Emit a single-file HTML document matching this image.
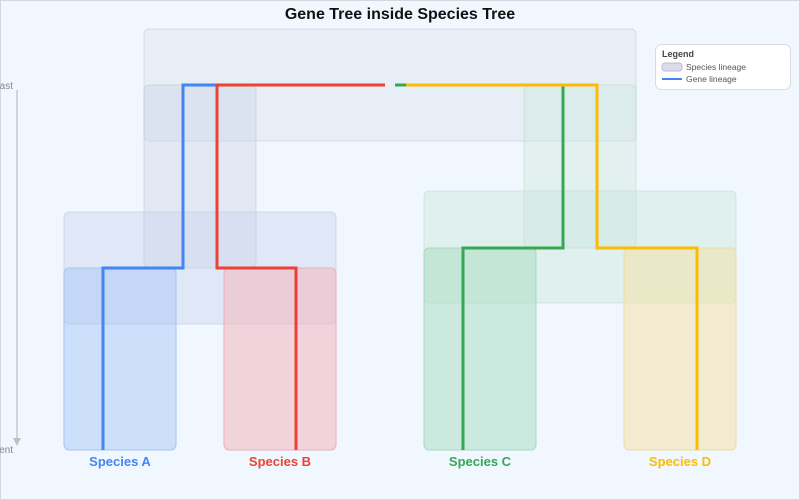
<!DOCTYPE html>
<html><head><meta charset="utf-8"><style>
html,body{margin:0;padding:0;background:#f0f7fe;}
svg{display:block;font-family:"Liberation Sans",sans-serif;}
</style></head><body>
<svg width="800" height="500" viewBox="0 0 800 500" xmlns="http://www.w3.org/2000/svg">
<rect x="0.5" y="0.5" width="799" height="499" fill="#f0f7fe" stroke="#d4d8de"/>
<text x="400" y="19" text-anchor="middle" font-size="16" font-weight="bold" fill="#111">Gene Tree inside Species Tree</text>
<!-- axis -->
<line x1="17" y1="90" x2="17" y2="440" stroke="#c8c8c8" stroke-width="1.5"/>
<polygon points="13,438 21,438 17,446" fill="#c0c0c0"/>
<text x="13" y="89" text-anchor="end" font-size="10" fill="#888">Past</text>
<text x="13" y="453" text-anchor="end" font-size="10" fill="#888">Present</text>
<!-- species boxes -->
<g stroke-width="1">
<rect x="144" y="29" width="492" height="112" rx="5" fill="#d8dde8" fill-opacity="0.35" stroke="#c8cfdc" stroke-opacity="0.6"/>
<rect x="144" y="85" width="112" height="183" rx="5" fill="#c8cde4" fill-opacity="0.35" stroke="#c0c6dc" stroke-opacity="0.6"/>
<rect x="524" y="85" width="112" height="163" rx="5" fill="#c8e4d8" fill-opacity="0.35" stroke="#bcd8cc" stroke-opacity="0.6"/>
<rect x="64" y="212" width="272" height="112" rx="5" fill="#c8d0ec" fill-opacity="0.4" stroke="#c0c8e0" stroke-opacity="0.6"/>
<rect x="424" y="191" width="312" height="112" rx="5" fill="#c8e6d8" fill-opacity="0.4" stroke="#bcdccc" stroke-opacity="0.6"/>
<rect x="64" y="268" width="112" height="182" rx="5" fill="#a8c8f8" fill-opacity="0.5" stroke="#a8c4f0"/>
<rect x="224" y="268" width="112" height="182" rx="5" fill="#f2b8be" fill-opacity="0.55" stroke="#eab0b6"/>
<rect x="424" y="248" width="112" height="202" rx="5" fill="#a8dcc0" fill-opacity="0.5" stroke="#a8d8bc"/>
<rect x="624" y="248" width="112" height="202" rx="5" fill="#f4e2a8" fill-opacity="0.55" stroke="#eedca0"/>
</g>
<!-- gene lineages -->
<g fill="none" stroke-width="3">
<polyline points="103,450 103,268 183,268 183,85 217,85" stroke="#4285f4"/>
<polyline points="296,450 296,268 217,268 217,85 385,85" stroke="#ea4335"/>
<polyline points="463,450 463,248 563,248 563,85 395,85" stroke="#34a853"/>
<polyline points="697,450 697,248 597,248 597,85 406,85" stroke="#fbbc04"/>
</g>
<!-- labels -->
<g font-size="13" font-weight="bold" text-anchor="middle">
<text x="120" y="466" fill="#4285f4">Species A</text>
<text x="280" y="466" fill="#ea4335">Species B</text>
<text x="480" y="466" fill="#34a853">Species C</text>
<text x="680" y="466" fill="#fbbc04">Species D</text>
</g>
<!-- legend -->
<rect x="655.5" y="44.5" width="135" height="45" rx="6" fill="#fff" stroke="#d8dce2"/>
<text x="662" y="57" font-size="9" font-weight="bold" fill="#444">Legend</text>
<rect x="662" y="63" width="20" height="8" rx="3" fill="#dcdcee" stroke="#b8bcd8"/>
<text x="686" y="70" font-size="8.5" fill="#555">Species lineage</text>
<line x1="662" y1="79" x2="682" y2="79" stroke="#4285f4" stroke-width="2"/>
<text x="686" y="82" font-size="8.5" fill="#555">Gene lineage</text>
</svg>
</body></html>
